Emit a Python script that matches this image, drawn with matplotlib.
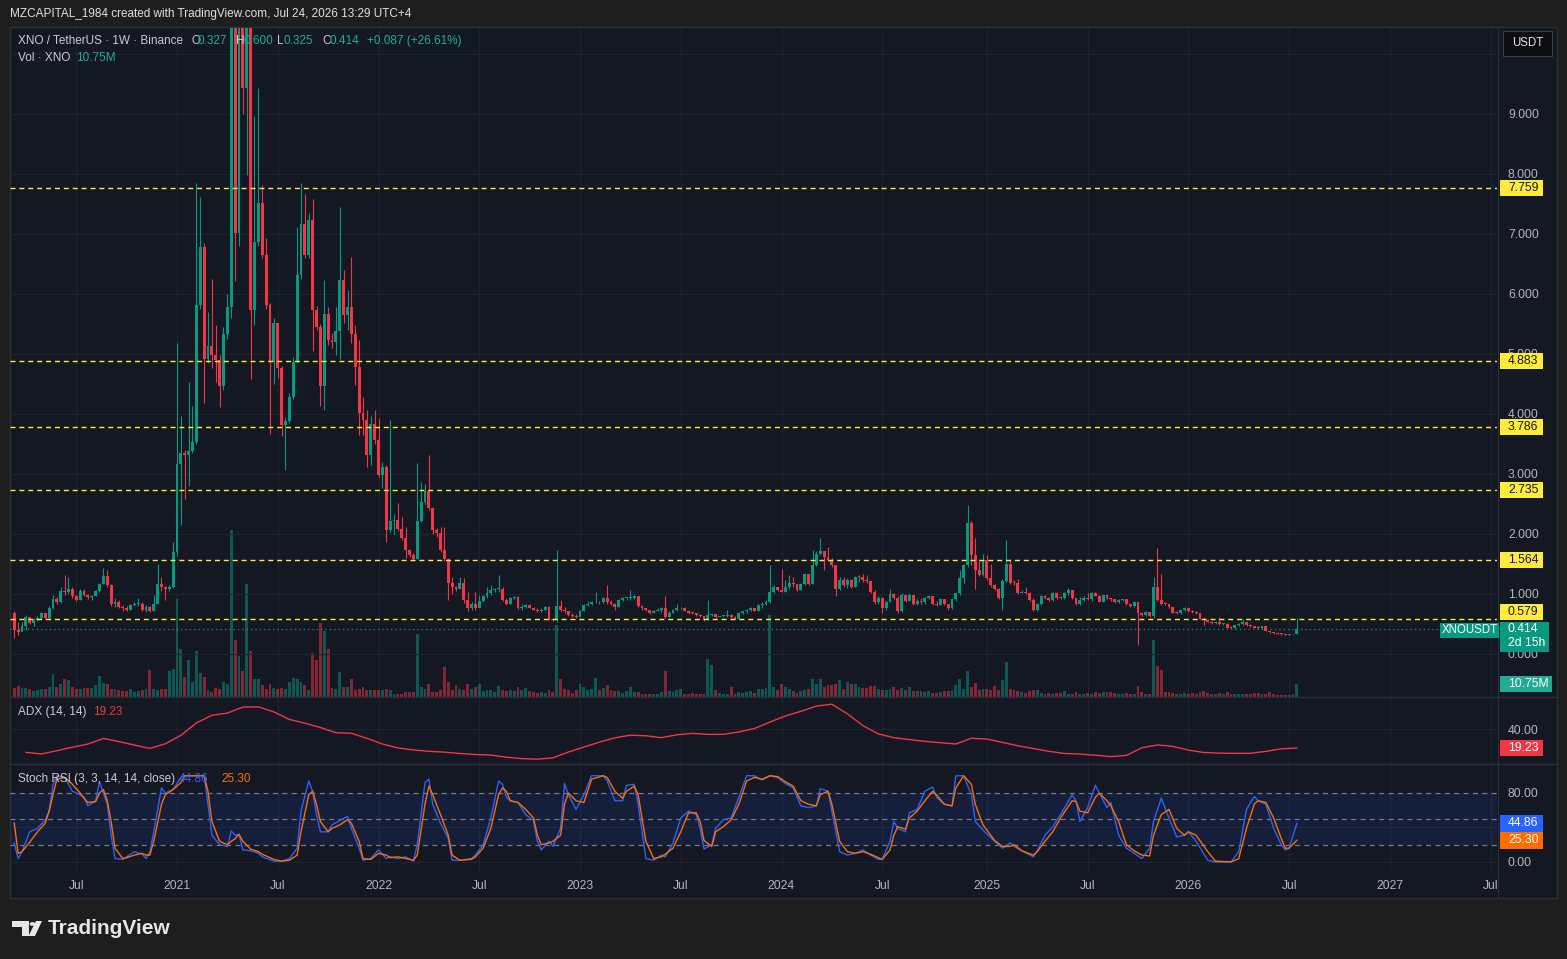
import numpy as np
import pandas as pd
import matplotlib
matplotlib.use("Agg")
import matplotlib.pyplot as plt
import matplotlib.dates as mdates
from matplotlib.patches import Rectangle, Polygon, Circle
from matplotlib.lines import Line2D

plt.rcParams['font.family'] = ['Liberation Sans', 'DejaVu Sans']

# ---------------- data ----------------
start_date = '2020-03-16'   # first weekly candle
first_open = 0.68

closes = [
    0.40, 0.37, 0.46, 0.62, 0.52, 0.57, 0.60, 0.68, 0.60, 0.77,
    0.92, 0.87, 1.05, 1.03, 1.08, 0.96, 0.90, 1.05, 0.98, 0.95,
    0.97, 1.05, 1.17, 1.30, 1.15, 0.83, 0.87, 0.79, 0.76, 0.74,
    0.82, 0.83, 0.84, 0.73, 0.79, 0.72, 0.84, 1.17, 1.12, 1.08,
    1.12, 1.70, 3.17, 3.35, 3.31, 3.38, 3.53, 5.81, 6.79, 4.91,
    5.14, 4.98, 4.90, 4.47, 5.34, 5.78, 10.8, 7.01, 10.5, 9.44,
    10.6, 5.74, 6.87, 7.52, 6.65, 5.81, 4.87, 5.52, 4.76, 3.82,
    3.89, 4.29, 4.87, 6.32, 7.16, 6.65, 7.23, 5.74, 5.45, 4.47,
    5.67, 5.23, 5.20, 5.38, 6.23, 5.65, 5.79, 5.34, 4.79, 4.01,
    3.90, 3.32, 3.84, 3.57, 2.98, 3.12, 2.07, 2.21, 2.23, 2.09,
    1.93, 1.73, 1.65, 1.59, 2.21, 2.54, 2.71, 2.43, 2.07, 2.01,
    1.73, 1.59, 1.18, 1.12, 1.09, 1.18, 0.90, 0.76, 0.84, 0.76,
    0.89, 0.96, 1.01, 1.07, 1.08, 1.09, 0.90, 0.84, 0.93, 0.95,
    0.76, 0.78, 0.82, 0.77, 0.74, 0.72, 0.74, 0.78, 0.58, 0.57,
    0.80, 0.73, 0.71, 0.65, 0.63, 0.62, 0.72, 0.82, 0.83, 0.86,
    0.87, 0.86, 0.93, 0.86, 0.84, 0.79, 0.90, 0.93, 0.93, 0.94,
    0.96, 0.80, 0.76, 0.73, 0.69, 0.72, 0.74, 0.76, 0.62, 0.69,
    0.73, 0.76, 0.77, 0.72, 0.69, 0.68, 0.65, 0.63, 0.57, 0.65,
    0.67, 0.62, 0.63, 0.64, 0.65, 0.61, 0.59, 0.68, 0.71, 0.73,
    0.76, 0.72, 0.82, 0.84, 0.87, 1.04, 1.11, 1.07, 1.04, 1.12,
    1.18, 1.16, 1.06, 1.17, 1.33, 1.17, 1.48, 1.67, 1.71, 1.62,
    1.57, 1.48, 1.09, 1.23, 1.15, 1.24, 1.12, 1.28, 1.29, 1.23,
    1.21, 1.04, 0.86, 0.94, 0.76, 0.87, 1.00, 0.94, 0.72, 0.98,
    0.89, 0.98, 0.83, 0.89, 0.86, 0.93, 0.96, 0.84, 0.82, 0.91,
    0.83, 0.76, 0.91, 1.01, 1.26, 1.48, 2.18, 1.65, 1.40, 1.32,
    1.56, 1.26, 1.15, 1.09, 0.93, 1.22, 1.50, 1.19, 1.18, 1.02,
    1.04, 1.02, 0.90, 0.73, 0.83, 0.97, 0.93, 0.90, 1.02, 0.94,
    0.93, 1.01, 1.07, 0.93, 0.83, 0.90, 0.93, 0.91, 1.02, 0.97,
    0.87, 0.98, 0.93, 0.91, 0.86, 0.90, 0.91, 0.83, 0.80, 0.86,
    0.69, 0.65, 0.70, 0.63, 1.12, 0.90, 0.84, 0.83, 0.78, 0.69,
    0.68, 0.73, 0.76, 0.71, 0.70, 0.68, 0.59, 0.57, 0.54, 0.51,
    0.54, 0.50, 0.50, 0.44, 0.43, 0.48, 0.50, 0.54, 0.48, 0.46,
    0.44, 0.43, 0.46, 0.39, 0.36, 0.35, 0.34, 0.33, 0.32, 0.33,
    0.327, 0.414,
]

highs = [
    0.71, 0.54, 0.54, 0.65, 0.62, 0.60, 0.63, 0.70, 0.69, 0.80,
    0.98, 0.95, 1.11, 1.32, 1.29, 1.12, 0.98, 1.08, 1.09, 1.00,
    0.99, 1.07, 1.19, 1.44, 1.40, 1.17, 0.93, 0.90, 0.82, 0.80,
    0.84, 0.86, 0.94, 0.86, 0.82, 0.80, 0.98, 1.50, 1.29, 1.14,
    1.15, 1.87, 5.18, 3.96, 3.40, 4.54, 4.14, 7.85, 7.61, 6.85,
    5.70, 6.25, 5.49, 4.98, 5.45, 6.00, 12.5, 11.5, 12.0, 11.0,
    11.2, 10.8, 8.97, 9.44, 7.81, 6.94, 5.85, 5.60, 5.00, 4.80,
    3.95, 4.35, 4.95, 7.12, 7.85, 7.67, 7.35, 7.59, 5.80, 5.50,
    6.23, 5.78, 5.35, 5.78, 7.45, 6.40, 6.07, 6.61, 5.48, 5.23,
    4.29, 4.07, 3.96, 4.07, 3.93, 3.20, 3.15, 3.90, 2.34, 2.51,
    2.29, 2.12, 1.75, 1.68, 3.18, 2.87, 2.84, 3.32, 2.45, 2.10,
    2.12, 2.12, 1.60, 1.29, 1.13, 1.29, 1.26, 1.04, 0.86, 1.04,
    0.99, 0.98, 1.12, 1.15, 1.10, 1.32, 1.12, 0.93, 0.95, 0.97,
    0.96, 0.83, 0.84, 0.83, 0.79, 0.76, 0.76, 0.80, 0.80, 0.60,
    1.73, 0.90, 0.78, 0.72, 0.69, 0.66, 0.74, 0.84, 0.88, 0.88,
    1.04, 0.89, 0.95, 1.15, 0.90, 0.85, 0.91, 0.95, 0.95, 1.07,
    0.98, 0.97, 0.81, 0.77, 0.74, 0.74, 0.76, 0.78, 0.96, 0.71,
    0.75, 0.84, 0.79, 0.78, 0.73, 0.70, 0.69, 0.66, 0.64, 0.90,
    0.69, 0.66, 0.64, 0.65, 0.73, 0.66, 0.63, 0.70, 0.72, 0.75,
    0.78, 0.77, 0.84, 0.86, 0.90, 1.48, 1.15, 1.12, 1.41, 1.23,
    1.32, 1.29, 1.15, 1.19, 1.35, 1.34, 1.73, 1.72, 1.94, 1.70,
    1.79, 1.60, 1.49, 1.29, 1.29, 1.26, 1.25, 1.30, 1.32, 1.33,
    1.32, 1.15, 1.06, 0.96, 0.95, 0.89, 1.08, 1.01, 0.96, 1.01,
    0.99, 1.01, 0.92, 0.91, 0.93, 0.95, 0.98, 0.94, 0.89, 0.93,
    0.92, 0.84, 0.93, 1.02, 1.40, 1.50, 2.48, 2.21, 1.94, 1.57,
    1.67, 1.65, 1.50, 1.16, 1.10, 1.25, 1.90, 1.59, 1.24, 1.25,
    1.07, 1.12, 1.04, 0.93, 0.85, 0.99, 0.99, 0.95, 1.04, 1.03,
    0.97, 1.03, 1.10, 1.02, 0.94, 0.95, 0.96, 1.02, 1.04, 1.03,
    0.99, 0.99, 0.99, 0.94, 0.92, 0.91, 0.92, 0.91, 0.84, 0.87,
    0.87, 0.70, 0.71, 0.70, 1.29, 1.76, 1.34, 0.86, 0.84, 0.79,
    0.71, 0.74, 0.78, 0.77, 0.74, 0.72, 0.69, 0.61, 0.58, 0.55,
    0.55, 0.62, 0.52, 0.51, 0.46, 0.49, 0.51, 0.59, 0.54, 0.50,
    0.47, 0.46, 0.47, 0.46, 0.39, 0.37, 0.36, 0.35, 0.34, 0.34,
    0.34, 0.600,
]

lows = [
    0.26, 0.32, 0.38, 0.40, 0.50, 0.47, 0.55, 0.58, 0.58, 0.58,
    0.75, 0.84, 0.85, 0.98, 1.00, 0.94, 0.88, 0.90, 0.96, 0.92,
    0.90, 0.96, 1.04, 1.16, 1.12, 0.80, 0.79, 0.77, 0.72, 0.72,
    0.73, 0.80, 0.80, 0.72, 0.70, 0.70, 0.71, 0.83, 1.05, 0.90,
    1.05, 1.10, 1.64, 2.15, 2.59, 2.80, 3.35, 3.50, 5.75, 4.18,
    4.85, 4.76, 4.54, 4.11, 4.40, 5.25, 5.60, 6.21, 6.80, 9.00,
    7.99, 4.58, 5.49, 6.80, 6.60, 5.75, 3.67, 4.50, 4.60, 3.64,
    3.06, 3.85, 4.25, 4.85, 6.25, 6.60, 6.60, 5.05, 5.40, 4.14,
    4.07, 5.15, 5.10, 4.98, 4.91, 5.51, 5.40, 5.18, 4.48, 3.65,
    3.65, 3.12, 3.15, 3.50, 2.95, 2.76, 1.87, 2.04, 2.00, 2.05,
    1.90, 1.60, 1.62, 1.55, 1.58, 2.20, 2.50, 2.40, 2.00, 1.95,
    1.70, 1.55, 0.90, 1.00, 1.05, 1.08, 0.85, 0.71, 0.74, 0.74,
    0.78, 0.86, 0.93, 0.98, 1.03, 1.04, 0.88, 0.82, 0.84, 0.91,
    0.75, 0.74, 0.76, 0.76, 0.73, 0.70, 0.70, 0.73, 0.56, 0.55,
    0.54, 0.72, 0.69, 0.64, 0.62, 0.60, 0.61, 0.71, 0.80, 0.81,
    0.85, 0.84, 0.85, 0.84, 0.82, 0.73, 0.78, 0.88, 0.90, 0.90,
    0.92, 0.78, 0.74, 0.71, 0.67, 0.68, 0.71, 0.70, 0.60, 0.61,
    0.68, 0.72, 0.75, 0.71, 0.67, 0.66, 0.64, 0.62, 0.55, 0.56,
    0.63, 0.60, 0.61, 0.61, 0.62, 0.60, 0.58, 0.58, 0.66, 0.69,
    0.72, 0.71, 0.71, 0.76, 0.82, 0.85, 1.02, 1.05, 1.03, 1.03,
    1.09, 1.11, 1.05, 1.06, 1.15, 1.15, 1.16, 1.46, 1.65, 1.40,
    1.55, 1.45, 0.96, 1.07, 1.12, 1.10, 1.10, 1.11, 1.20, 1.20,
    1.19, 1.02, 0.84, 0.84, 0.68, 0.74, 0.86, 0.92, 0.68, 0.70,
    0.87, 0.88, 0.81, 0.82, 0.84, 0.83, 0.91, 0.82, 0.80, 0.81,
    0.81, 0.74, 0.75, 0.89, 0.99, 1.18, 1.45, 1.48, 1.09, 1.30,
    1.30, 1.23, 1.12, 1.07, 0.91, 0.73, 1.20, 1.17, 1.15, 1.00,
    1.02, 1.00, 0.88, 0.71, 0.71, 0.81, 0.92, 0.88, 0.88, 0.92,
    0.91, 0.92, 0.99, 0.91, 0.81, 0.82, 0.88, 0.90, 0.89, 0.96,
    0.86, 0.86, 0.92, 0.89, 0.85, 0.85, 0.88, 0.82, 0.78, 0.78,
    0.15, 0.63, 0.64, 0.62, 0.60, 0.88, 0.82, 0.81, 0.76, 0.68,
    0.66, 0.67, 0.72, 0.70, 0.69, 0.67, 0.58, 0.48, 0.53, 0.50,
    0.50, 0.49, 0.49, 0.43, 0.42, 0.42, 0.47, 0.49, 0.47, 0.45,
    0.43, 0.42, 0.42, 0.38, 0.35, 0.34, 0.33, 0.32, 0.31, 0.31,
    0.32, 0.325,
]

# weekly volume, millions of XNO
volumes_m = [
    7.5, 9.1, 7.5, 7.5, 6.6, 5.0, 5.8, 6.6, 6.6, 8.3,
    19.1, 8.3, 10.8, 14.9, 14.1, 8.3, 6.6, 6.6, 7.5, 7.5,
    7.5, 10.0, 17.4, 11.6, 10.8, 6.6, 6.6, 5.8, 5.0, 5.0,
    6.6, 4.1, 5.0, 5.8, 6.6, 22.4, 6.6, 5.8, 6.6, 6.6,
    21.6, 23.2,
    81.3, 39.8, 16.6, 30.7, 12.4, 38.2, 19.9, 16.6, 5.8, 4.1,
    7.5, 6.6, 12.4, 10.8, 137.8, 47.3, 34.0, 21.6, 93.8, 38.2,
    14.9, 14.9, 10.0, 6.6, 10.8, 7.5, 6.6, 7.5, 6.6, 12.4,
    15.8, 14.9, 12.4, 10.0, 5.8, 36.5, 30.7, 61.4, 54.8, 39.8,
    7.5, 6.6,
    20.7, 8.3, 8.3, 14.9, 5.8, 6.6, 8.3, 5.8, 5.8, 5.8,
    5.8, 5.8, 6.6, 5.8, 2.5, 2.5, 2.5, 4.1, 4.1, 4.1,
    52.3, 8.3, 6.6, 10.8, 4.1, 4.1, 5.8, 24.9, 12.4, 5.8,
    10.0, 6.6, 5.8, 10.8, 6.6, 8.3,
    10.8, 5.0, 5.8, 5.8, 4.1, 9.1, 5.8, 5.0, 5.8, 5.0,
    8.3, 5.8, 7.5, 5.0, 4.1, 3.3, 4.1, 3.3, 5.8, 4.1,
    59.8,
    14.9, 6.6, 5.8, 3.3, 5.8, 10.8, 8.3, 5.8, 6.6, 15.8,
    5.8, 7.5, 10.0, 5.8, 5.0, 5.0, 3.3, 5.0, 8.3, 4.1,
    4.1, 2.5, 2.5, 2.5, 2.5, 2.5, 4.1, 21.6, 5.0, 4.1,
    5.8, 6.6, 2.5, 2.5, 3.3, 2.5, 2.5, 2.5, 31.5, 26.6,
    5.8, 3.3, 2.5, 2.5, 8.3, 2.5, 4.1, 3.3, 4.1, 5.0,
    3.3, 6.6, 6.6, 7.5, 68.0, 8.3, 5.8, 10.8, 8.3, 6.6,
    5.0, 3.3, 5.0, 5.8, 6.6, 14.9, 10.8, 14.9, 8.3, 10.0,
    10.0, 10.8, 14.1, 6.6, 12.4, 10.8, 10.8, 8.3,
    7.5, 7.5, 9.1, 9.1, 6.6, 5.8, 5.8, 6.6, 8.3, 5.8,
    7.5, 5.8, 8.3, 5.0, 5.0, 5.0, 4.1, 5.0, 3.3, 3.3,
    4.1, 5.0, 5.0, 5.8, 10.0, 14.9, 6.6, 21.6, 8.3, 11.6,
    5.8, 6.6, 6.6, 5.8, 9.1, 5.8, 14.1, 29.0, 6.6, 5.8,
    5.0, 4.1, 3.3, 5.0, 5.8, 5.8, 3.3, 2.5, 3.3, 2.5,
    3.3, 3.3, 5.0, 2.5, 2.5, 4.1, 2.5, 2.5, 3.3, 2.5,
    4.1, 3.3, 4.1, 4.1, 4.1, 3.3, 2.5, 2.5, 3.3, 2.5,
    2.5, 9.1, 4.1, 2.5, 2.5, 47.3, 25.7, 22.4, 4.1, 4.1,
    3.3, 2.5, 2.5, 3.3, 2.5, 3.3, 2.5, 4.1, 5.0, 3.3,
    2.5, 2.5, 3.3, 2.5, 4.1, 2.5, 2.5, 2.5, 2.5, 2.5,
    2.5, 3.3, 3.3, 2.5, 2.5, 4.1, 2.5, 1.7, 1.7, 1.7,
    1.7, 2.5, 10.75,
]

# ADX(14,14) read every 4th week (weeks 3, 7, ..., 331)
adx_values = [
    14.4, 12.6, 16.2, 20.1, 23.6, 29.9, 26.3, 22.5, 18.8, 23.9,
    33.3, 47.1, 55.6, 58.0, 64.7, 65.0, 59.3, 51.0, 46.8, 42.0,
    36.2, 35.6, 30.0, 23.7, 19.3, 17.0, 15.6, 14.6, 13.1, 12.0,
    11.4, 9.0, 7.4, 6.8, 8.3, 14.7, 20.3, 25.7, 30.5, 33.5,
    32.8, 30.7, 33.9, 35.5, 34.4, 34.4, 37.1, 40.9, 48.0, 54.8,
    60.0, 65.8, 67.9, 57.2, 44.1, 34.9, 30.7, 28.6, 26.6, 25.1,
    23.7, 30.0, 29.2, 25.4, 21.7, 18.6, 15.5, 13.1, 12.5, 11.2,
    9.7, 11.0, 19.5, 22.6, 21.0, 16.9, 14.2, 13.5, 13.3, 13.3,
    15.5, 18.3, 19.23,
]

# Stoch RSI (3,3,14,14) readings: week number, %K, %D
stoch_week = [
    0, 1, 2, 4, 6, 8, 9, 10, 11, 13,
    15, 17, 18, 19, 21, 22, 23, 24, 25, 26,
    28, 29, 31, 33, 34, 35, 36, 38, 39, 41,
    43, 44, 47, 49, 50, 51, 53, 55, 56, 57,
    58, 59, 61, 63, 64, 67, 69, 71, 73, 74,
    76, 77, 78, 79, 81, 82, 84, 86, 87, 89,
    90, 92, 94, 96, 97, 99, 101, 103, 104, 106,
    107, 108, 110, 112, 113, 115, 118, 119, 121, 123,
    125, 126, 127, 128, 130, 132, 134, 135, 136, 138,
    139, 141, 142, 143, 145, 147, 149, 152, 153, 155,
    157, 158, 160, 161, 163, 165, 167, 168, 170, 172,
    174, 176, 177, 178, 180, 181, 183, 185, 187, 189,
    191, 193, 195, 197, 199, 201, 203, 205, 207, 208,
    210, 211, 213, 215, 217, 219, 221, 223, 224, 226,
    227, 228, 230, 231, 233, 235, 237, 238, 240, 242,
    243, 245, 247, 248, 250, 253, 255, 257, 258, 260,
    263, 264, 266, 268, 270, 273, 274, 275, 277, 279,
    280, 282, 283, 285, 287, 289, 291, 293, 294, 296,
    298, 300, 302, 303, 305, 308, 310, 314, 316, 318,
    320, 321, 323, 325, 327, 328, 329, 331,
]
stoch_k = [
    22, 4, 12, 35, 39, 49, 59, 90, 100, 98,
    82, 78, 75, 65, 71, 93, 80, 67, 31, 4,
    3, 6, 12, 9, 4, 12, 35, 86, 80, 84,
    98, 100, 100, 100, 67, 31, 20, 18, 36, 31,
    32, 14, 13, 10, 6, 1, 1, 4, 16, 59,
    94, 82, 55, 35, 35, 43, 48, 53, 39, 16,
    2, 4, 14, 4, 6, 4, 6, 1, 20, 92,
    96, 67, 45, 27, 2, 2, 4, 8, 20, 51,
    94, 90, 75, 71, 69, 55, 48, 24, 14, 24,
    18, 39, 91, 78, 61, 78, 100, 100, 94, 71,
    71, 89, 90, 67, 4, 2, 8, 6, 22, 51,
    59, 55, 39, 15, 20, 39, 49, 51, 75, 100,
    100, 95, 100, 98, 91, 86, 65, 63, 65, 85,
    82, 59, 12, 8, 10, 14, 8, 3, 3, 24,
    47, 39, 35, 57, 61, 82, 87, 75, 67, 65,
    100, 100, 78, 47, 37, 24, 16, 22, 18, 13,
    6, 13, 31, 41, 55, 78, 71, 47, 63, 89,
    80, 63, 69, 31, 16, 10, 4, 16, 47, 74,
    51, 29, 31, 35, 24, 2, 0, 0, 12, 61,
    76, 71, 67, 39, 20, 14, 16, 44.86,
]
stoch_d = [
    45, 10, 12, 23, 35, 45, 59, 78, 96, 98,
    90, 80, 74, 69, 70, 80, 84, 71, 47, 16,
    4, 5, 8, 10, 8, 8, 24, 67, 78, 84,
    92, 100, 100, 100, 82, 47, 24, 20, 24, 27,
    32, 24, 15, 12, 9, 3, 1, 2, 8, 35,
    78, 82, 67, 47, 35, 39, 43, 49, 45, 24,
    4, 3, 10, 8, 5, 6, 4, 2, 8, 67,
    88, 78, 55, 31, 8, 2, 3, 6, 16, 39,
    78, 86, 82, 71, 69, 61, 51, 31, 20, 22,
    24, 31, 67, 80, 71, 69, 96, 100, 98, 82,
    74, 82, 88, 78, 24, 4, 6, 9, 16, 35,
    57, 57, 47, 25, 18, 35, 41, 49, 67, 94,
    98, 96, 100, 99, 93, 88, 71, 67, 65, 78,
    82, 67, 24, 12, 10, 12, 9, 5, 3, 14,
    31, 41, 38, 51, 59, 71, 82, 78, 67, 65,
    86, 100, 90, 67, 43, 25, 18, 18, 20, 13,
    8, 12, 24, 35, 51, 71, 70, 59, 57, 75,
    80, 71, 65, 47, 20, 13, 8, 7, 31, 55,
    61, 39, 31, 35, 31, 12, 1, 0, 4, 39,
    67, 71, 69, 51, 27, 16, 16, 25.30,
]

levels = [7.759, 4.883, 3.786, 2.735, 1.564, 0.579]
price_ticks = [0, 1, 2, 3, 4, 5, 6, 7, 8, 9]
price_grid = [0, 1, 2, 3, 4, 5, 6, 7, 8, 9, 10]
adx_ticks = [40]
stoch_ticks = [0, 80]
stoch_bands = [80, 50, 20]

# ---------------- derived ----------------
N = len(closes)
dates = pd.date_range(start_date, periods=N, freq='W-MON')
xd = mdates.date2num(dates.to_pydatetime())
c = np.array(closes, float)
hi = np.array(highs, float)
lo = np.array(lows, float)
o = np.concatenate([[first_open], c[:-1]])
up = c >= o
UP, DN = '#089981', '#F23645'
col = np.where(up, UP, DN)

W, H = 1567, 959
fig = plt.figure(figsize=(W / 100, H / 100), dpi=100)
fig.patch.set_facecolor('#1e1e1e')


def R(x0, y0, x1, y1):
    return [x0 / W, 1 - y1 / H, (x1 - x0) / W, (y1 - y0) / H]


PANEL = '#141823'
GRID = '#1f2330'
TXT = '#B2B5BE'
fig.add_artist(Rectangle((10 / W, 1 - 898 / H), 1547 / W, 871 / H, transform=fig.transFigure,
                         fc=PANEL, ec='#2a2e39', lw=1, zorder=-10))

# x range (in dates): plot area spans px 10..1497, candle 0 centre at px 14.25, 3.875 px/week
x_left = xd[0] - (14.25 - 10) / 3.875 * 7
x_right = xd[0] + (1497 - 14.25) / 3.875 * 7

tick_x, tick_lab = [], []
for yr in range(2020, 2028):
    for m in (1, 7):
        d = pd.Timestamp(yr, m, 1)
        d = d + pd.Timedelta(days=(7 - d.weekday()) % 7)
        xv = mdates.date2num(d.to_pydatetime())
        if x_left <= xv <= x_right:
            tick_x.append(xv)
            tick_lab.append('Jul' if m == 7 else str(yr))

ax_vol = fig.add_axes(R(10, 28, 1497, 697), zorder=1)
ax = fig.add_axes(R(10, 28, 1497, 697), zorder=2)
ax_adx = fig.add_axes(R(10, 697, 1497, 764), zorder=2)
ax_st = fig.add_axes(R(10, 764, 1497, 872), zorder=2)

for a in (ax_vol, ax, ax_adx, ax_st):
    a.set_facecolor('none')
    for s in a.spines.values():
        s.set_visible(False)
    a.set_xlim(x_left, x_right)
    a.tick_params(axis='x', length=0, labelbottom=False)
    a.set_xticks([])

# vertical grid
for a in (ax_vol, ax_adx, ax_st):
    for xv in tick_x:
        a.axvline(xv, color=GRID, lw=0.8, zorder=0)

# ---- volume ----
ax_vol.bar(xd, volumes_m, width=5.0, color=col, alpha=0.5, lw=0)
ax_vol.set_ylim(0, 553)
ax_vol.set_yticks([])

# ---- price ----
for g in price_grid:
    ax.axhline(g, color=GRID, lw=0.8, zorder=0)
ax.vlines(xd, lo, hi, colors=col, lw=0.8, zorder=2)
body_lo = np.minimum(o, c)
body_h = np.maximum(np.abs(c - o), 0.014)
ax.bar(xd, body_h, bottom=body_lo, width=5.2, color=col, lw=0, zorder=3)
for lv in levels:
    ax.axhline(lv, color='#FFEB3B', lw=1.0, ls=(0, (3.6, 2.8)), zorder=4)
ax.axhline(c[-1], xmin=0, xmax=(1440 - 10) / 1487, color=UP, lw=0.9, ls=(0, (1, 2.5)), zorder=4)
ax.set_ylim(-0.717, 10.433)
ax.yaxis.tick_right()
ax.set_yticks(price_ticks)
ax.set_yticklabels([f'{v:.3f}' for v in price_ticks])
ax.tick_params(axis='y', length=0, pad=7.9, labelsize=8.7, labelcolor=TXT)

# ---- ADX ----
ax_adx.axhline(40, color=GRID, lw=0.8, zorder=0)
ax_adx.plot(xd[3::4], adx_values, color='#F23645', lw=1.0)
ax_adx.set_ylim(1.44, 75.9)
ax_adx.yaxis.tick_right()
ax_adx.set_yticks(adx_ticks)
ax_adx.set_yticklabels([f'{v:.2f}' for v in adx_ticks])
ax_adx.tick_params(axis='y', length=0, pad=7.9, labelsize=8.7, labelcolor=TXT)

# ---- Stoch RSI ----
sx = xd[np.array(stoch_week)]
ax_st.axhline(0, color=GRID, lw=0.8, zorder=0)
ax_st.axhline(40, color=GRID, lw=0.8, zorder=0)
ax_st.axhspan(20, 80, color='#2962FF', alpha=0.10, lw=0, zorder=0)
for b in stoch_bands:
    ax_st.axhline(b, color='#787B86', lw=0.9, ls=(0, (4, 3.5)), zorder=1)
ax_st.plot(sx, stoch_k, color='#2962FF', lw=1.0, zorder=3)
ax_st.plot(sx, stoch_d, color='#FF6D00', lw=1.0, zorder=3)
ax_st.set_ylim(-11.6, 113.6)
ax_st.yaxis.tick_right()
ax_st.set_yticks(stoch_ticks)
ax_st.set_yticklabels([f'{v:.2f}' for v in stoch_ticks])
ax_st.tick_params(axis='y', length=0, pad=7.9, labelsize=8.7, labelcolor=TXT)
ax_st.set_xticks(tick_x)
ax_st.set_xticklabels(tick_lab)
ax_st.tick_params(axis='x', length=0, pad=5.8, labelsize=8.7, labelcolor=TXT, labelbottom=True)

# separators
for yy in (697, 764):
    fig.add_artist(Line2D([10 / W, 1557 / W], [1 - yy / H] * 2, transform=fig.transFigure,
                          color='#2a2e39', lw=1, zorder=4))
fig.add_artist(Line2D([1498 / W] * 2, [1 - 27 / H, 1 - 898 / H], transform=fig.transFigure,
                      color='#2a2e39', lw=0.8, zorder=4))


# ---- right-scale label boxes ----
def box_px(x0, x1, y0, y1, fc, zorder=6):
    fig.add_artist(Rectangle((x0 / W, 1 - y1 / H), (x1 - x0) / W, (y1 - y0) / H,
                             transform=fig.transFigure, fc=fc, ec='none', zorder=zorder))


def value_y(axis, v):
    return H - axis.transData.transform((xd[0], v))[1]


for lv in levels:
    yc = value_y(ax, lv)
    if abs(lv - 0.579) < 1e-6:
        yc -= 7  # pushed up by the last-price label
    box_px(1500, 1543, yc - 8, yc + 8, '#FFEB3B')
    fig.text(1508 / W, 1 - yc / H, f'{lv:.3f}', color='#131722', fontsize=8.7,
             va='center', ha='left', zorder=7)

# last price
yc = value_y(ax, c[-1])
box_px(1500, 1549, yc - 7.5, yc + 22.5, UP)
fig.text(1508 / W, 1 - yc / H, f'{c[-1]:.3f}', color='white', fontsize=8.7, va='center', ha='left', zorder=7)
fig.text(1508 / W, 1 - (yc + 14) / H, '2d 15h', color='white', fontsize=8.7, va='center', ha='left', zorder=7)
box_px(1440, 1499, yc - 6.5, yc + 8.5, UP)
fig.text(1469.5 / W, 1 - (yc + 1) / H, 'XNOUSDT', color='white', fontsize=8.3, va='center', ha='center', zorder=7)

# volume label
vy = H - ax_vol.transData.transform((xd[0], volumes_m[-1]))[1]
box_px(1500, 1552, vy - 8, vy + 8, '#22ab94')
fig.text(1508 / W, 1 - vy / H, f'{volumes_m[-1]:.2f}M', color='white', fontsize=8.7, va='center', ha='left', zorder=7)

# ADX label
ay = value_y(ax_adx, adx_values[-1])
box_px(1500, 1543, ay - 8, ay + 8, '#F23645')
fig.text(1508 / W, 1 - ay / H, f'{adx_values[-1]:.2f}', color='white', fontsize=8.7, va='center', ha='left', zorder=7)

# Stoch labels
ky = value_y(ax_st, stoch_k[-1])
dy_ = value_y(ax_st, stoch_d[-1])
box_px(1500, 1543, ky - 8.5, ky + 8.5, '#2962FF')
fig.text(1508 / W, 1 - ky / H, f'{stoch_k[-1]:.2f}', color='white', fontsize=8.7, va='center', ha='left', zorder=7)
box_px(1500, 1543, dy_ - 8.5, dy_ + 8.5, '#FF6D00')
fig.text(1508 / W, 1 - dy_ / H, f'{stoch_d[-1]:.2f}', color='white', fontsize=8.7, va='center', ha='left', zorder=7)

# USDT button
fig.add_artist(Rectangle((1503 / W, 1 - 56 / H), 49 / W, 25 / H, transform=fig.transFigure,
                         fc='#0c0d10', ec='#3a3e4a', lw=0.8, zorder=6))
fig.text(1527.5 / W, 1 - 43.5 / H, 'USDT', color='#e6e6e6', fontsize=8.3, va='center', ha='center', zorder=7)


# ---- texts ----
def t(x, y, s, color, size=9, weight='normal', ha='left'):
    fig.text(x / W, 1 - y / H, s, color=color, fontsize=size, fontweight=weight,
             va='center', ha=ha, zorder=8)


t(10, 14, 'MZCAPITAL_1984 created with TradingView.com, Jul 24, 2026 13:29 UTC+4', '#e0e0e0', 8.5)

VAL = '#22ab94'
LEG = '#C8CBD2'
FS = 8.45
t(18, 41, 'XNO / TetherUS · 1W · Binance', LEG, FS)
t(191, 41, 'O', LEG, FS)
t(198, 41, f'{o[-1]:.3f}', VAL, FS)
t(236, 41, 'H', LEG, FS)
t(244, 41, f'{hi[-1]:.3f}', VAL, FS)
t(277, 41, 'L', LEG, FS)
t(284, 41, f'{lo[-1]:.3f}', VAL, FS)
t(322, 41, 'C', LEG, FS)
t(330, 41, f'{c[-1]:.3f}', VAL, FS)
chg = c[-1] - o[-1]
t(367, 41, f'+{chg:.3f} (+{chg / o[-1] * 100:.2f}%)', VAL, FS)
t(18, 58, 'Vol · XNO', LEG, FS)
t(76, 58, f'{volumes_m[-1]:.2f}M', VAL, FS)

t(18, 712, 'ADX (14, 14)', LEG, FS)
t(93, 712, f'{adx_values[-1]:.2f}', '#F23645', FS)
t(18, 779, 'Stoch RSI (3, 3, 14, 14, close)', LEG, FS)
t(179, 779, f'{stoch_k[-1]:.2f}', '#2962FF', FS)
t(221, 779, f'{stoch_d[-1]:.2f}', '#FF6D00', FS)

# TradingView logo
LOGO = '#e6e6e6'
fig.add_artist(Polygon([(12 / W, 1 - 921 / H), (29 / W, 1 - 921 / H), (29 / W, 1 - 936 / H),
                        (22 / W, 1 - 936 / H), (22 / W, 1 - 927 / H), (12 / W, 1 - 927 / H)],
                       closed=True, transform=fig.transFigure, fc=LOGO, ec='none', zorder=8))
fig.add_artist(Circle((32.5 / W, 1 - 924 / H), 3 / W, transform=fig.transFigure, fc=LOGO, ec='none', zorder=8))
fig.add_artist(Polygon([(36 / W, 1 - 921 / H), (42 / W, 1 - 921 / H), (35 / W, 1 - 936 / H),
                        (28.5 / W, 1 - 936 / H)], closed=True, transform=fig.transFigure,
                       fc=LOGO, ec='none', zorder=8))
t(48, 929, 'TradingView', LOGO, 15, 'bold')

fig.savefig('out.png', dpi=100, facecolor=fig.get_facecolor())
